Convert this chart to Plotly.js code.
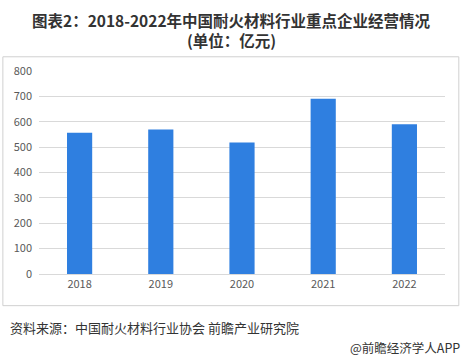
<!DOCTYPE html>
<html>
<head>
<meta charset="utf-8">
<script src="https://cdn.plot.ly/plotly-3.0.1.min.js"></script>
<style>html,body{margin:0;padding:0;background:#fff;}#chart{width:462px;height:359px;}</style>
</head>
<body>
<div id="chart"></div>
<script>
const years = ['2018', '2019', '2020', '2021', '2022'];
const revenue = [557, 569, 518, 691, 590];
const yTicks = [0, 100, 200, 300, 400, 500, 600, 700, 800];
const titleLines = ['图表2：2018-2022年中国耐火材料行业重点企业经营情况', '(单位：亿元)'];
const sourceText = '资料来源：中国耐火材料行业协会 前瞻产业研究院';
const brandText = '@前瞻经济学人APP';

const font = '"Noto Sans CJK SC", "Noto Sans", sans-serif';

const trace = {
  type: 'bar',
  x: years,
  y: revenue,
  marker: {color: '#2f7fe0'},
  hoverinfo: 'x+y'
};

const layout = {
  width: 462,
  height: 359,
  margin: {l: 38.5, r: 16.5, t: 71, b: 85},
  paper_bgcolor: '#ffffff',
  plot_bgcolor: '#ffffff',
  bargap: 0.69,
  showlegend: false,
  xaxis: {
    type: 'category',
    range: [-0.5, 4.5],
    showgrid: false,
    showline: true,
    linecolor: '#d9d9d9',
    ticks: '',
    tickfont: {family: font, size: 11, color: '#595959'},
    fixedrange: true
  },
  yaxis: {
    range: [0, 800],
    tickvals: yTicks,
    showgrid: true,
    gridcolor: '#d9d9d9',
    zeroline: false,
    showline: false,
    ticks: '',
    ticklabelstandoff: 6,
    tickfont: {family: font, size: 11, color: '#595959'},
    fixedrange: true
  },
  shapes: [{
    type: 'rect', xref: 'paper', yref: 'paper',
    x0: -0.089, x1: 1.034, y0: -0.156, y1: 1.07,
    line: {color: '#d0d0d0', width: 1}, fillcolor: 'rgba(0,0,0,0)', layer: 'below'
  }],
  annotations: [
    {
      text: '<b>' + titleLines[0] + '</b>',
      xref: 'paper', yref: 'paper', x: 0.475, y: 1.2512,
      xanchor: 'center', yanchor: 'middle', showarrow: false,
      font: {family: font, size: 15.5, color: '#333333'}
    },
    {
      text: '<b>' + titleLines[1] + '</b>',
      xref: 'paper', yref: 'paper', x: 0.475, y: 1.1527,
      xanchor: 'center', yanchor: 'middle', showarrow: false,
      font: {family: font, size: 15.5, color: '#333333'}
    },
    {
      text: sourceText,
      xref: 'paper', yref: 'paper', x: -0.077, y: -0.2635,
      xanchor: 'left', yanchor: 'middle', showarrow: false,
      font: {family: font, size: 13, color: '#333333'}
    },
    {
      text: brandText,
      xref: 'paper', yref: 'paper', x: 1.0417, y: -0.3645,
      xanchor: 'right', yanchor: 'middle', showarrow: false,
      font: {family: font, size: 12.5, color: '#333333'}
    }
  ]
};

Plotly.newPlot('chart', [trace], layout, {displayModeBar: false, staticPlot: true});
</script>
</body>
</html>
